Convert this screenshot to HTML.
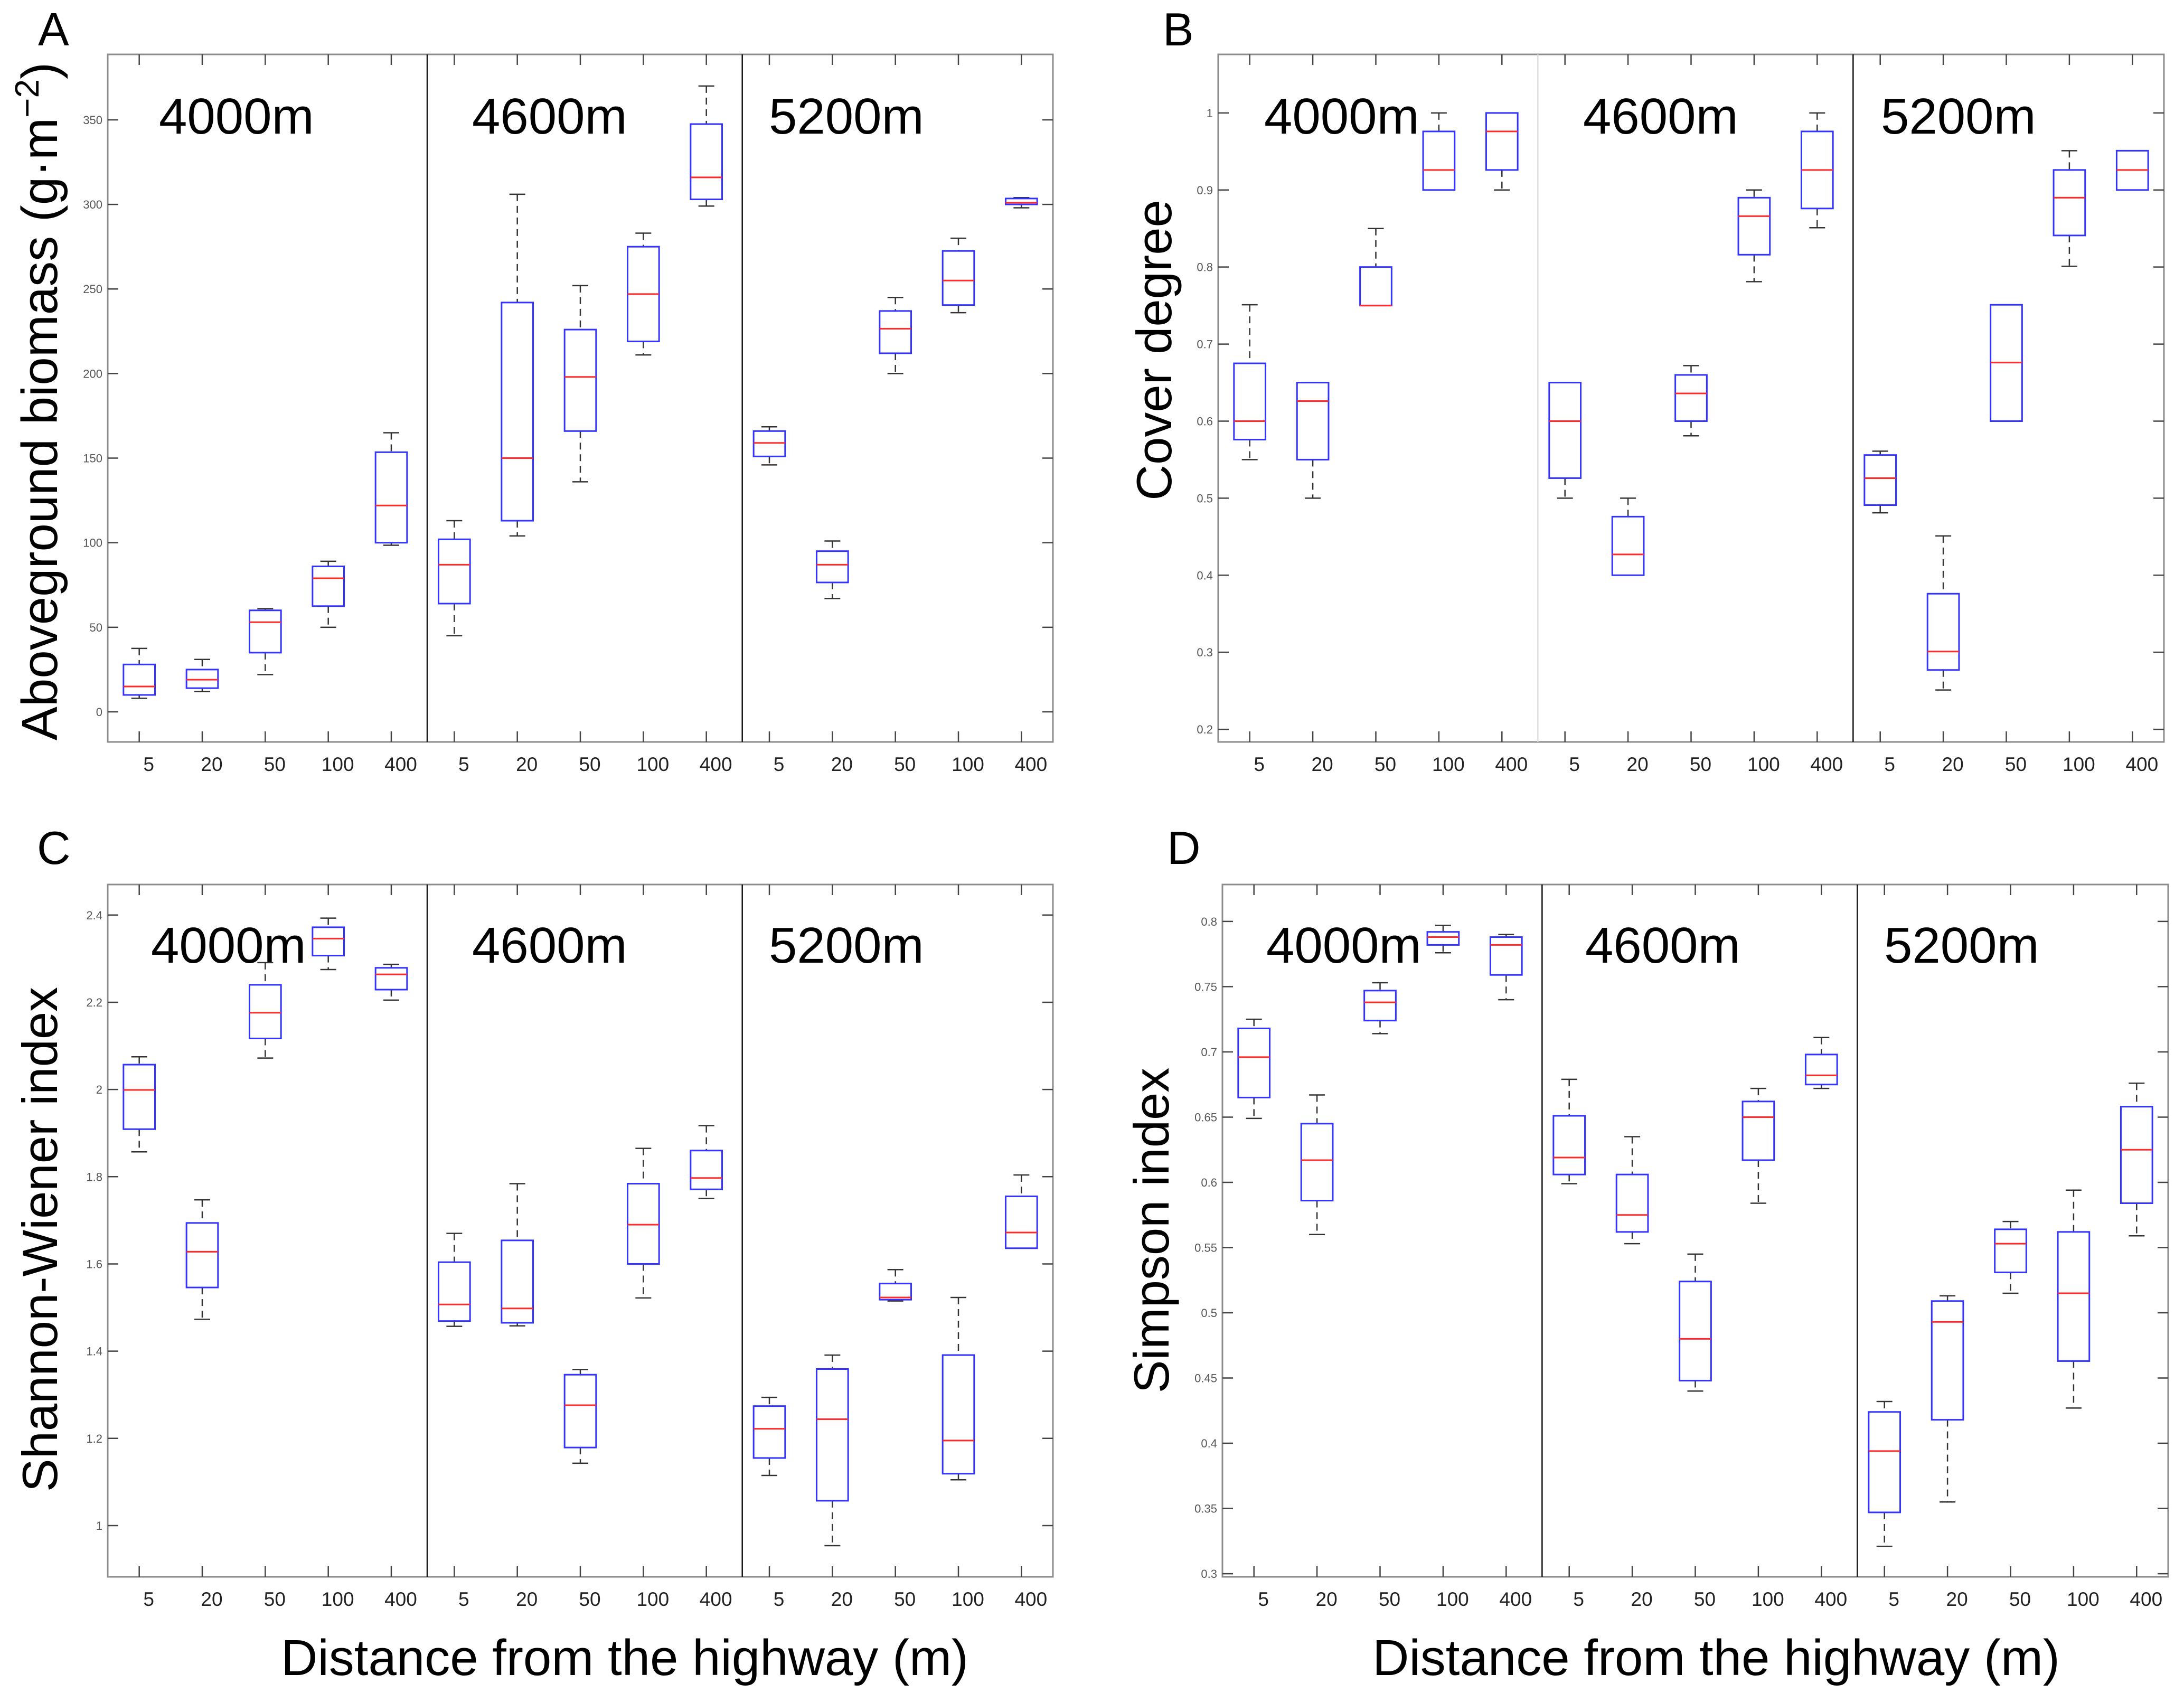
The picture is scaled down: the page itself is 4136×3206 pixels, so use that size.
<!DOCTYPE html>
<html><head><meta charset="utf-8"><style>
html,body{margin:0;padding:0;background:#fff;}
svg{display:block;font-family:"Liberation Sans",Arial,sans-serif;}
</style></head><body>
<svg id="fig" width="4136" height="3206" viewBox="0 0 4136 3206" xmlns="http://www.w3.org/2000/svg">
<rect x="0" y="0" width="4136" height="3206" fill="#fff"/>
<text x="72" y="86" font-size="88">A</text>
<text x="2202" y="86" font-size="88">B</text>
<text x="70" y="1636" font-size="88">C</text>
<text x="2210" y="1636" font-size="88">D</text>
<text transform="translate(108,760) rotate(-90)" text-anchor="middle" font-size="96">Aboveground biomass (g·m<tspan dy="-35" font-size="64">−2</tspan><tspan dy="35">)</tspan></text>
<text transform="translate(2218,663) rotate(-90)" text-anchor="middle" font-size="94">Cover degree</text>
<text transform="translate(108,2347) rotate(-90)" text-anchor="middle" font-size="94">Shannon-Wiener index</text>
<text transform="translate(2213,2330) rotate(-90)" text-anchor="middle" font-size="94">Simpson index</text>
<text x="1183" y="3172" text-anchor="middle" font-size="96">Distance from the highway (m)</text>
<text x="3250" y="3172" text-anchor="middle" font-size="96">Distance from the highway (m)</text>
</svg>
<script>
const categories = ["5","20","50","100","400","5","20","50","100","400","5","20","50","100","400"];
const groupLabels = ["4000m","4600m","5200m"];

const aLo  = [8,12,22,50,98.5, 45,104,136,211,299, 146,67,200,236,298];
const aQ1  = [10,14,35,62.5,100, 64,113,166,219,303, 151,76.5,212,240.5,300];
const aMed = [15,19,53,79,122, 87,150,198,247,316, 159,87,226.5,255,301];
const aQ3  = [28,25,60,86,153.5, 102,242,226,275,347.5, 166,95,237,272.5,303.5];
const aHi  = [37.5,31,61,89,165, 113,306,252,283,370, 168.5,101,245,280,304];
const aTicks = [0,50,100,150,200,250,300,350];
const aTickLabels = ["0","50","100","150","200","250","300","350"];

const bLo  = [0.55,0.5,0.75,0.9,0.9, 0.5,0.4,0.581,0.781,0.851, 0.481,0.251,0.6,0.801,0.9];
const bQ1  = [0.576,0.55,0.75,0.9,0.926, 0.526,0.4,0.6,0.816,0.876, 0.491,0.277,0.6,0.841,0.9];
const bMed = [0.6,0.626,0.75,0.926,0.976, 0.6,0.427,0.636,0.866,0.926, 0.526,0.301,0.676,0.89,0.926];
const bQ3  = [0.675,0.65,0.8,0.976,1.0, 0.65,0.476,0.66,0.89,0.976, 0.556,0.376,0.751,0.926,0.951];
const bHi  = [0.751,0.65,0.85,1.0,1.0, 0.65,0.5,0.672,0.9,1.0, 0.561,0.451,0.751,0.951,0.951];
const bTicks = [0.2,0.3,0.4,0.5,0.6,0.7,0.8,0.9,1];
const bTickLabels = ["0.2","0.3","0.4","0.5","0.6","0.7","0.8","0.9","1"];

const cLo  = [1.857,1.473,2.072,2.275,2.205, 1.457,1.458,1.143,1.522,1.750, 1.115,0.954,1.515,1.105,1.636];
const cQ1  = [1.909,1.546,2.117,2.307,2.229, 1.469,1.465,1.179,1.600,1.771, 1.155,1.057,1.518,1.119,1.636];
const cMed = [1.999,1.628,2.176,2.346,2.264, 1.507,1.498,1.276,1.690,1.797, 1.222,1.244,1.523,1.195,1.672];
const cQ3  = [2.057,1.694,2.240,2.372,2.279, 1.604,1.654,1.346,1.784,1.860, 1.274,1.359,1.555,1.391,1.755];
const cHi  = [2.075,1.747,2.291,2.393,2.287, 1.670,1.784,1.358,1.865,1.917, 1.294,1.391,1.587,1.523,1.804];
const cTicks = [1,1.2,1.4,1.6,1.8,2,2.2,2.4];
const cTickLabels = ["1","1.2","1.4","1.6","1.8","2","2.2","2.4"];

const dLo  = [0.649,0.560,0.714,0.776,0.740, 0.599,0.553,0.440,0.584,0.672, 0.321,0.355,0.515,0.427,0.559];
const dQ1  = [0.665,0.586,0.724,0.782,0.759, 0.606,0.562,0.448,0.617,0.675, 0.347,0.418,0.531,0.463,0.584];
const dMed = [0.696,0.617,0.738,0.788,0.782, 0.619,0.575,0.480,0.650,0.682, 0.394,0.493,0.553,0.515,0.625];
const dQ3  = [0.718,0.645,0.747,0.792,0.788, 0.651,0.606,0.524,0.662,0.698, 0.424,0.509,0.564,0.562,0.658];
const dHi  = [0.725,0.667,0.753,0.797,0.790, 0.679,0.635,0.545,0.672,0.711, 0.432,0.513,0.570,0.594,0.676];
const dTicks = [0.3,0.35,0.4,0.45,0.5,0.55,0.6,0.65,0.7,0.75,0.8];
const dTickLabels = ["0.3","0.35","0.4","0.45","0.5","0.55","0.6","0.65","0.7","0.75","0.8"];

const NS = "http://www.w3.org/2000/svg";
const svg = document.getElementById("fig");
function mk(tag, attrs, parent){
  const e = document.createElementNS(NS, tag);
  for (const k in attrs) e.setAttribute(k, attrs[k]);
  (parent||svg).appendChild(e);
  return e;
}

function panel(id, L, R, T, B, ymin, ymax, lo, q1, med, q3, hi, ticks, tlabels, div1Color, glx, gly){
  const g = mk("g", {});
  
  
  const xs = v => L + (v - 0.5) / 15 * (R - L);
  const ys = v => B - (v - ymin) / (ymax - ymin) * (B - T);
  const fr = mk("rect", {x:L, y:T, width:R-L, height:B-T, fill:"none", stroke:"#8c8c8c", "stroke-width":3}, g);
  
  
  [5.57, 10.57].forEach((d, i) => {
    const ln = mk("line", {x1:xs(d), x2:xs(d), y1:T, y2:B, stroke: i===0 ? div1Color : "#111", "stroke-width":2.5}, g);
    
    
  });
  categories.forEach((c, i) => {
    const x = xs(i + 1);
    mk("line", {x1:x, x2:x, y1:B, y2:B-20, stroke:"#444", "stroke-width":2.5}, g);
    mk("line", {x1:x, x2:x, y1:T, y2:T+20, stroke:"#444", "stroke-width":2.5}, g);
    const t = mk("text", {x:x+18, y:B+55, "text-anchor":"middle", "font-size":37, fill:"#222"}, g);
    
    
    t.textContent = c;
  });
  ticks.forEach((v, i) => {
    const y = ys(v);
    mk("line", {x1:L, x2:L+20, y1:y, y2:y, stroke:"#444", "stroke-width":2.5}, g);
    mk("line", {x1:R, x2:R-20, y1:y, y2:y, stroke:"#444", "stroke-width":2.5}, g);
    const t = mk("text", {x:L-10, y:y+8, "text-anchor":"end", "font-size":22, fill:"#555"}, g);
    
    
    t.textContent = tlabels[i];
  });
  groupLabels.forEach((s, i) => {
    const t = mk("text", {x:glx[i], y:gly, "font-size":96, fill:"#000"}, g);
    
    
    t.textContent = s;
  });
  const hw = (R - L) / 15 * 0.25, cw = 15;
  for (let i = 0; i < lo.length; i++) {
    const x = xs(i + 1);
    const bx = mk("g", {}, g);
    
    
    if (hi[i] > q3[i]) mk("line", {x1:x, x2:x, y1:ys(hi[i]), y2:ys(q3[i]), stroke:"#333", "stroke-width":2.5, "stroke-dasharray":"13 9"}, bx);
    if (lo[i] < q1[i]) mk("line", {x1:x, x2:x, y1:ys(q1[i]), y2:ys(lo[i]), stroke:"#333", "stroke-width":2.5, "stroke-dasharray":"13 9"}, bx);
    mk("line", {x1:x-cw, x2:x+cw, y1:ys(hi[i]), y2:ys(hi[i]), stroke:"#333", "stroke-width":2.5}, bx);
    mk("line", {x1:x-cw, x2:x+cw, y1:ys(lo[i]), y2:ys(lo[i]), stroke:"#333", "stroke-width":2.5}, bx);
    mk("rect", {x:x-hw, y:ys(q3[i]), width:2*hw, height:Math.max(1, ys(q1[i]) - ys(q3[i])), fill:"none", stroke:"#3333ff", "stroke-width":3}, bx);
    mk("line", {x1:x-hw, x2:x+hw, y1:ys(med[i]), y2:ys(med[i]), stroke:"#ff2a2a", "stroke-width":3}, bx);
  }
}

panel("a", 204, 1994, 103, 1405, -17.8, 388.7, aLo, aQ1, aMed, aQ3, aHi, aTicks, aTickLabels, "#111", [301, 894, 1456], 253);
panel("b", 2307, 4098, 103, 1405, 0.1836, 1.076, bLo, bQ1, bMed, bQ3, bHi, bTicks, bTickLabels, "#dcdcdc", [2394, 2998, 3562], 253);
panel("c", 204, 1994, 1675, 2986, 0.8825, 2.470, cLo, cQ1, cMed, cQ3, cHi, cTicks, cTickLabels, "#111", [286, 894, 1456], 1823);
panel("d", 2315, 4106, 1675, 2986, 0.2976, 0.8283, dLo, dQ1, dMed, dQ3, dHi, dTicks, dTickLabels, "#111", [2398, 3002, 3568], 1823);
</script>
</body></html>
